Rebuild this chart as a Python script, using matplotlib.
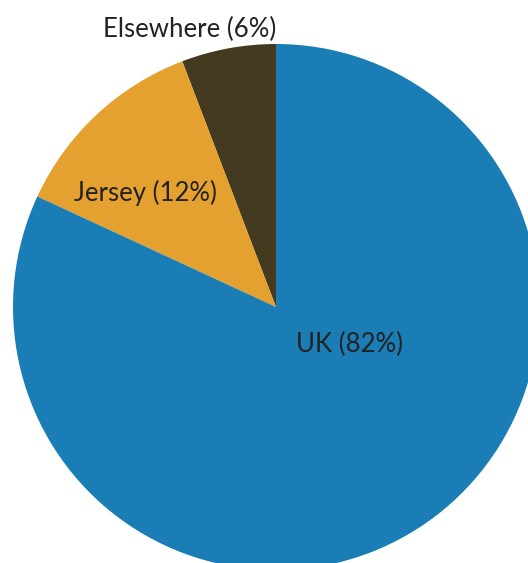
import matplotlib
matplotlib.use("Agg")
import matplotlib.pyplot as plt

categories = ["Elsewhere", "Jersey", "UK"]
shares = [5.8, 12.3, 81.9]
labels = ["Elsewhere (6%)", "Jersey (12%)", "UK (82%)"]
colors = ["#443a1f", "#e4a12f", "#1a7db5"]

W, H = 528, 563
fig = plt.figure(figsize=(W / 100, H / 100), dpi=100)
cx, cy, r = 276, 307, 263
ax = fig.add_axes([(cx - r) / W, (H - cy - r) / H, 2 * r / W, 2 * r / H])
ax.pie(shares, colors=colors, startangle=90, counterclock=True, radius=1,
       wedgeprops=dict(linewidth=0))
ax.set_xlim(-1, 1)
ax.set_ylim(-1, 1)
ax.set_aspect("equal")
ax.axis("off")

pos = [(190, 29), (145, 193), (350, 344)]
for lab, (px, py) in zip(labels, pos):
    ax.text((px - cx) / r, (cy - py) / r, lab, ha="center", va="center",
            fontsize=18.5, color="#222222", family=["Lato", "DejaVu Sans"])

fig.savefig("out.png", dpi=100)
